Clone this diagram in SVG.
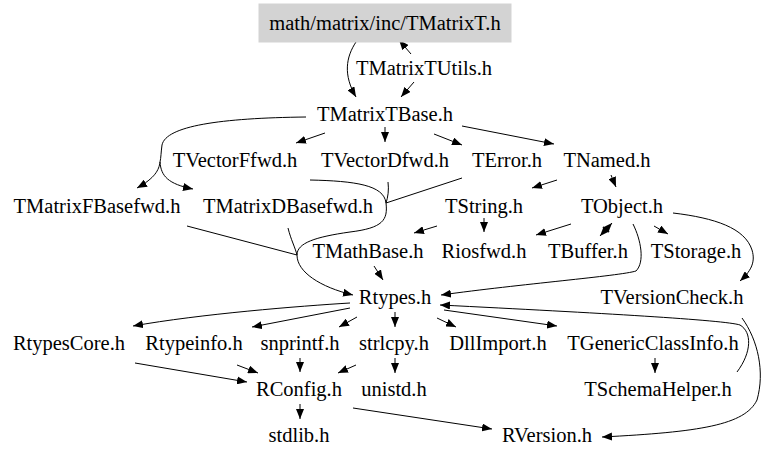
<svg xmlns="http://www.w3.org/2000/svg" width="768" height="461" viewBox="0 0 768 461">
<style>
text{font-family:"Liberation Serif","Times New Roman",serif;font-size:20.5px;fill:#000;text-anchor:middle}
.e path{fill:none;stroke:#000;stroke-width:1;marker-end:url(#ah)}
.e path.m{marker-end:none}
</style>
<defs>
<marker id="ah" markerUnits="userSpaceOnUse" markerWidth="10" markerHeight="8" viewBox="0 0 10 8" refX="10" refY="4" orient="auto">
<path d="M0,0 L10,4 L0,8 z" fill="#000"/>
</marker>
</defs>
<rect width="768" height="461" fill="#fff"/>
<g class="e" id="edges">
<path d="M411,54 L399,40"/>
<path d="M414,82 L401,97"/>
<path d="M356,42 C346,57 343,75 356,97"/>
<path d="M325,133 L296,143"/>
<path d="M385,127 L385,142"/>
<path d="M434,134 L462,145"/>
<path d="M462,126 L554,144"/>
<path class="m" d="M306,117 C220,118 166,126 162,145 C161,152 161,158 160,162"/>
<path d="M160,162 C159,170 155,178 137,188"/>
<path d="M160,162 C161,176 168,184 193,189"/>
<path class="m" d="M310,180 C355,181 384,185 386,203"/>
<path class="m" d="M388,182 C389,190 388,197 386,203"/>
<path class="m" d="M462,178 L386,203"/>
<path class="m" d="M386,203 C388,220 383,228 350,232 C315,237 297,243 297,255"/>
<path class="m" d="M288,228 C291,240 295,247 297,255"/>
<path class="m" d="M187,226 L297,255"/>
<path d="M297,255 C297,272 320,287 353,295"/>
<path d="M557,180 L532,188"/>
<path d="M611,175 L616,187"/>
<path d="M437,226 L414,233"/>
<path d="M484,218 L484,232"/>
<path d="M571,224 L536,235"/>
<path d="M612,223 L600,236"/>
<path d="M600,236 L612,223"/>
<path d="M654,226 L668,234"/>
<path d="M633,224 C641,240 645,262 636,271 C620,276 520,284 441,295"/>
<path d="M673,213 C715,218 745,228 752,250 C756,263 750,272 740,281"/>
<path d="M374,266 L383,280"/>
<path d="M350,303 C300,306 200,314 133,326"/>
<path d="M350,308 L252,327"/>
<path d="M357,317 L339,327"/>
<path d="M395,312 L395,327"/>
<path d="M437,318 L456,327"/>
<path d="M444,310 L557,326"/>
<path d="M737,372 C752,352 752,332 740,325 C725,320 600,313 440,305"/>
<path d="M742,318 C758,340 765,372 757,400 C745,425 700,432 602,437"/>
<path d="M237,365 L258,373"/>
<path d="M135,363 L247,382"/>
<path d="M300,358 L300,372"/>
<path d="M356,365 L338,373"/>
<path d="M395,358 L395,373"/>
<path d="M655,358 L655,373"/>
<path d="M300,404 L300,419"/>
<path d="M353,408 L492,429"/>
</g>
<g id="n_TMatrixT"><rect x="259" y="4" width="252" height="38" fill="#d3d3d3" stroke="#d3d3d3"/><text x="385" y="30">math/matrix/inc/TMatrixT.h</text></g>
<g id="n_TMatrixTUtils"><text x="424" y="75">TMatrixTUtils.h</text></g>
<g id="n_TMatrixTBase"><text x="385" y="121">TMatrixTBase.h</text></g>
<g id="n_TVectorFfwd"><text x="235" y="167">TVectorFfwd.h</text></g>
<g id="n_TVectorDfwd"><text x="385" y="167">TVectorDfwd.h</text></g>
<g id="n_TError"><text x="507" y="167">TError.h</text></g>
<g id="n_TNamed"><text x="607" y="167">TNamed.h</text></g>
<g id="n_TMatrixFBasefwd"><text x="97" y="213">TMatrixFBasefwd.h</text></g>
<g id="n_TMatrixDBasefwd"><text x="288" y="213">TMatrixDBasefwd.h</text></g>
<g id="n_TString"><text x="484" y="213">TString.h</text></g>
<g id="n_TObject"><text x="622" y="213">TObject.h</text></g>
<g id="n_TMathBase"><text x="368" y="258">TMathBase.h</text></g>
<g id="n_Riosfwd"><text x="484" y="258">Riosfwd.h</text></g>
<g id="n_TBuffer"><text x="588" y="258">TBuffer.h</text></g>
<g id="n_TStorage"><text x="696" y="258">TStorage.h</text></g>
<g id="n_Rtypes"><text x="395" y="304">Rtypes.h</text></g>
<g id="n_TVersionCheck"><text x="672" y="304">TVersionCheck.h</text></g>
<g id="n_RtypesCore"><text x="69" y="350">RtypesCore.h</text></g>
<g id="n_Rtypeinfo"><text x="194" y="350">Rtypeinfo.h</text></g>
<g id="n_snprintf"><text x="300" y="350">snprintf.h</text></g>
<g id="n_strlcpy"><text x="394" y="350">strlcpy.h</text></g>
<g id="n_DllImport"><text x="498" y="350">DllImport.h</text></g>
<g id="n_TGenericClassInfo"><text x="653" y="350">TGenericClassInfo.h</text></g>
<g id="n_RConfig"><text x="299" y="396">RConfig.h</text></g>
<g id="n_unistd"><text x="394" y="396">unistd.h</text></g>
<g id="n_TSchemaHelper"><text x="658" y="396">TSchemaHelper.h</text></g>
<g id="n_stdlib"><text x="299" y="442">stdlib.h</text></g>
<g id="n_RVersion"><text x="547" y="442">RVersion.h</text></g>
</svg>
